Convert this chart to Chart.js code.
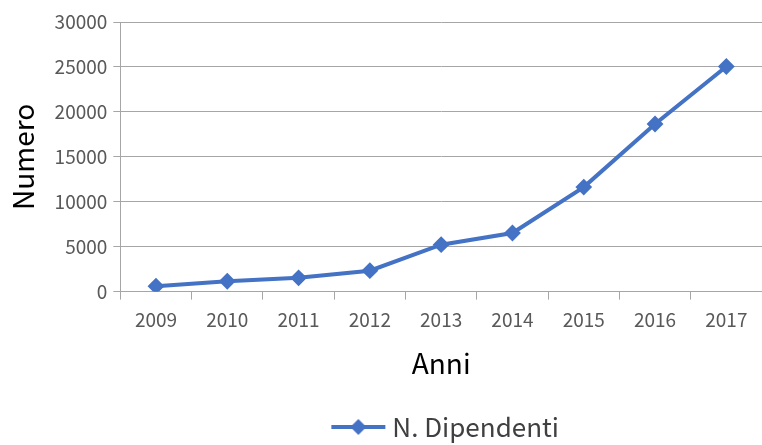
<!DOCTYPE html>
<html>
<head>
<meta charset="utf-8">
<script src="https://cdn.jsdelivr.net/npm/chart.js@4"></script>
<style>
  html, body { margin: 0; padding: 0; background: #fff; overflow: hidden; }
  canvas { display: block; }
</style>
</head>
<body>
<canvas id="grafico" width="762" height="445"></canvas>
<script>
  var anni = ["2009", "2010", "2011", "2012", "2013", "2014", "2015", "2016", "2017"];
  var dipendenti = [600, 1150, 1530, 2330, 5220, 6520, 11630, 18650, 25050];
  var yTicks = [0, 5000, 10000, 15000, 20000, 25000, 30000];

  var blu = "#4472C4";
  var font = "'Noto Sans CJK JP', 'Noto Sans', sans-serif";

  // icona della legenda: linea con rombo (spostata a destra, vicino al testo)
  var icona = document.createElement("canvas");
  icona.width = 70;
  icona.height = 20;
  var c = icona.getContext("2d");
  c.strokeStyle = blu;
  c.lineWidth = 4;
  c.beginPath();
  c.moveTo(15, 10);
  c.lineTo(69, 10);
  c.stroke();
  c.fillStyle = blu;
  c.beginPath();
  c.moveTo(42, 2);
  c.lineTo(50, 10);
  c.lineTo(42, 18);
  c.lineTo(34, 10);
  c.closePath();
  c.fill();

  Chart.defaults.font.family = font;
  Chart.defaults.color = "#595959";

  new Chart(document.getElementById("grafico").getContext("2d"), {
    type: "line",
    data: {
      labels: anni,
      datasets: [{
        label: "N. Dipendenti",
        data: dipendenti,
        borderColor: blu,
        backgroundColor: blu,
        borderWidth: 4,
        pointStyle: "rectRot",
        pointRadius: 7,
        pointBorderWidth: 2,
        pointBackgroundColor: blu,
        pointBorderColor: blu,
        tension: 0
      }]
    },
    options: {
      responsive: false,
      animation: false,
      layout: { autoPadding: false, padding: { top: 22, left: 7, right: -3, bottom: -5 } },
      plugins: {
        tooltip: { enabled: false },
        legend: {
          position: "bottom",
          fullSize: false,
          labels: {
            usePointStyle: true,
            pointStyle: icona,
            pointStyleWidth: 56,
            boxHeight: 20,
            padding: 3,
            color: "#404040",
            font: { size: 26 }
          }
        }
      },
      scales: {
        x: {
          offset: true,
          grid: {
            offset: true,
            drawOnChartArea: false,
            drawTicks: true,
            tickLength: 8,
            color: "#a6a6a6"
          },
          border: { color: "#a6a6a6" },
          ticks: { font: { size: 19 }, padding: 9, color: "#595959", maxRotation: 0 },
          title: {
            display: true,
            text: "Anni",
            color: "#000",
            font: { size: 28 },
            padding: { top: 6, bottom: 31 }
          }
        },
        y: {
          min: 0,
          max: 30000,
          afterBuildTicks: function (axis) {
            axis.ticks = yTicks.map(function (v) { return { value: v }; });
          },
          grid: { color: "#a6a6a6", tickLength: 7 },
          border: { color: "#a6a6a6" },
          ticks: {
            font: { size: 19 },
            padding: 6,
            color: "#595959",
            callback: function (v) { return String(v); }
          },
          title: {
            display: true,
            text: "Numero",
            color: "#000",
            font: { size: 28 },
            padding: { top: 0, bottom: 8 }
          }
        }
      }
    }
  });
</script>
</body>
</html>
